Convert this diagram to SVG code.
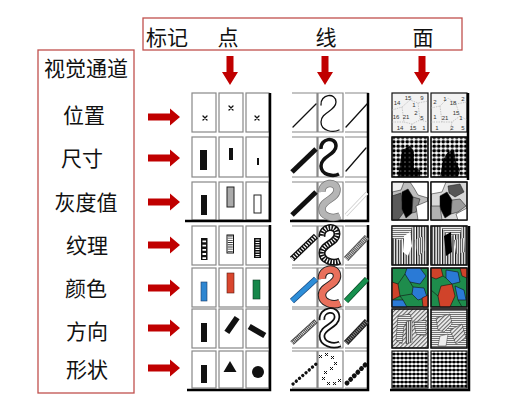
<svg xmlns="http://www.w3.org/2000/svg" width="505" height="404" viewBox="0 0 505 404">
<style>
.t{font-family:"Noto Sans CJK SC","Noto Sans",sans-serif;font-size:21px;fill:#111;text-anchor:middle}
.box{fill:none;stroke:#C0504D;stroke-width:1.3}
.ra{fill:#C00000}
.scell{stroke:#111;stroke-width:1.2}
.frame{fill:none;stroke:#000;stroke-width:2.5}
.thin{fill:none;stroke:#111;stroke-width:1.3;stroke-linecap:round}
.blk{fill:#111}
.num{font-family:"Liberation Sans",sans-serif;font-size:6px;fill:#333;text-anchor:middle}
</style>
<defs>
<pattern id="dots" width="4.5" height="4.5" patternUnits="userSpaceOnUse"><rect width="4.5" height="4.5" fill="#fff"/><circle cx="2.25" cy="2.25" r="1.9" fill="#000"/></pattern>
<pattern id="bigdots" width="4.5" height="4.5" patternUnits="userSpaceOnUse"><rect width="4.5" height="4.5" fill="#fff"/><circle cx="2.25" cy="2.25" r="2.6" fill="#000"/></pattern>
<pattern id="vstr" width="2.6" height="4" patternUnits="userSpaceOnUse"><rect width="2.6" height="4" fill="#fff"/><rect width="1.2" height="4" fill="#111"/></pattern>
<pattern id="vstr2" width="2" height="4" patternUnits="userSpaceOnUse"><rect width="2" height="4" fill="#ddd"/><rect width="0.9" height="4" fill="#555"/></pattern>
<pattern id="hstr" width="4" height="2" patternUnits="userSpaceOnUse"><rect width="4" height="2" fill="#eee"/><rect width="4" height="0.9" fill="#666"/></pattern>
<pattern id="dstr" width="3" height="3" patternUnits="userSpaceOnUse" patternTransform="rotate(45)"><rect width="3" height="3" fill="#eee"/><rect width="1.1" height="3" fill="#666"/></pattern>
<pattern id="grid" width="4" height="4" patternUnits="userSpaceOnUse"><rect width="4" height="4" fill="#fff"/><circle cx="2" cy="2" r="1.5" fill="#000"/><rect x="0" y="1.5" width="4" height="1" fill="#000"/></pattern>
</defs>
<rect width="505" height="404" fill="#fff"/>

<g id="header">
<rect class="box" x="143" y="18" width="319" height="32"/>
<text class="t" x="167" y="45">标记</text>
<text class="t" x="228" y="45">点</text>
<text class="t" x="326" y="45">线</text>
<text class="t" x="423" y="45">面</text>
</g>

<g id="channels">
<rect class="box" x="38" y="50" width="96" height="343"/>
<text class="t" x="86" y="76">视觉通道</text>
<text class="t" x="84" y="123">位置</text>
<text class="t" x="82" y="166">尺寸</text>
<text class="t" x="86" y="210">灰度值</text>
<text class="t" x="87" y="253">纹理</text>
<text class="t" x="86" y="296">颜色</text>
<text class="t" x="87" y="339">方向</text>
<text class="t" x="87" y="377">形状</text>
</g>

<g id="connectors">
<path class="ra" d="M226.5,56h7v16h4.5l-8,13l-8,-13h4.5z"/>
<path class="ra" d="M321.5,56h7v16h4.5l-8,13l-8,-13h4.5z"/>
<path class="ra" d="M418.5,56h7v16h4.5l-8,13l-8,-13h4.5z"/>
<path class="ra" d="M148,113.5H170V108.5L180,117L170,125.5V120.5H148Z"/>
<path class="ra" d="M148,154.5H170V149.5L180,158L170,166.5V161.5H148Z"/>
<path class="ra" d="M148,198.5H170V193.5L180,202L170,210.5V205.5H148Z"/>
<path class="ra" d="M148,241.5H170V236.5L180,245L170,253.5V248.5H148Z"/>
<path class="ra" d="M148,284.5H170V279.5L180,288L170,296.5V291.5H148Z"/>
<path class="ra" d="M148,324.5H170V319.5L180,328L170,336.5V331.5H148Z"/>
<path class="ra" d="M148,364.5H170V359.5L180,368L170,376.5V371.5H148Z"/>
</g>

<g id="point">
<g fill="#fff" stroke="#888" stroke-width="1.2">
<rect x="192" y="93" width="24" height="39"/><rect x="219" y="93" width="24" height="39"/><rect x="246" y="93" width="23" height="39"/>
<rect x="192" y="137" width="24" height="40"/><rect x="219" y="137" width="24" height="40"/><rect x="246" y="137" width="23" height="40"/>
<rect x="192" y="182" width="24" height="38"/><rect x="219" y="182" width="24" height="38"/><rect x="246" y="182" width="23" height="38"/>
<rect x="192" y="226" width="24" height="39"/><rect x="219" y="226" width="24" height="39"/><rect x="246" y="226" width="23" height="39"/>
<rect x="192" y="268" width="24" height="39"/><rect x="219" y="268" width="24" height="39"/><rect x="246" y="268" width="23" height="39"/>
<rect x="192" y="309" width="24" height="39"/><rect x="219" y="309" width="24" height="39"/><rect x="246" y="309" width="23" height="39"/>
<rect x="192" y="351" width="24" height="37"/><rect x="219" y="351" width="24" height="37"/><rect x="246" y="351" width="23" height="37"/>
</g>
<path class="frame" d="M270,93V221H185M270,225V390H187"/>
<path class="thin" stroke-width="1.5" d="M203,116l4,4M207,116l-4,4M229,106l4,4M233,106l-4,4M255,116l4,4M259,116l-4,4"/>
<rect class="blk" x="200" y="150" width="7" height="20"/>
<rect class="blk" x="229" y="148" width="4" height="12"/>
<rect class="blk" x="257" y="158" width="2" height="7"/>
<rect class="blk" x="201" y="195" width="6" height="20"/>
<rect x="227" y="187" width="7" height="20" fill="#aaa" stroke="#222" stroke-width="1"/>
<rect x="254" y="195" width="7" height="18" fill="#fff" stroke="#222" stroke-width="1"/>
<rect class="blk" x="201" y="238" width="6.5" height="22"/>
<path stroke="#fff" stroke-width="3.6" stroke-dasharray="1.8 2.4" d="M204.25,240.5V259"/>
<rect x="227" y="235" width="6.5" height="18" fill="#fff" stroke="#111" stroke-width="1"/>
<path stroke="#333" stroke-width="5" stroke-dasharray="0.9 1.3" d="M230.25,235.5V253"/>
<rect class="blk" x="254" y="238" width="7" height="20"/>
<path stroke="#fff" stroke-width="4" stroke-dasharray="1 1.4" d="M257.5,239.5V257"/>
<rect x="201" y="282" width="6" height="19" fill="#2E86D1" stroke="#1a3a6a" stroke-width="0.6"/>
<rect x="227" y="273" width="7" height="20" fill="#D9462E" stroke="#5a1a10" stroke-width="0.6"/>
<rect x="253" y="280" width="7" height="19" fill="#16874A" stroke="#0a3a20" stroke-width="0.6"/>
<rect class="blk" x="201" y="323" width="6" height="19"/>
<rect class="blk" x="229" y="316" width="6" height="18" transform="rotate(35 232 325)"/>
<rect class="blk" x="254" y="322" width="6" height="18" transform="rotate(-60 257 331)"/>
<rect class="blk" x="201" y="365" width="6" height="18"/>
<path class="blk" d="M230,361l6.5,11h-13z"/>
<circle class="blk" cx="258" cy="372" r="6"/>
</g>

<g id="line">
<g fill="#fff" stroke="#888" stroke-width="1.2">
<path d="M292,93H317V132H292M318,93H343V132H318ZM345,93H368V132H345"/>
<path d="M292,137H317V177H292M318,137H343V177H318ZM345,137H368V177H345"/>
<path d="M292,182H317V220H292M318,182H343V220H318ZM345,182H368V220H345"/>
<path d="M292,226H317V265H292M318,226H343V265H318ZM345,226H368V265H345"/>
<path d="M292,268H317V307H292M318,268H343V307H318ZM345,268H368V307H345"/>
<path d="M292,309H317V348H292M318,309H343V348H318ZM345,309H368V348H345"/>
<path d="M292,351H317V388H292M318,351H343V388H318ZM345,351H368V388H345"/>
</g>
<path class="frame" d="M368,93V221H290M368,225V390H290"/>
<path class="thin" d="M293,127L316,104M346,127L367,104"/>
<path class="thin" d="M321,105C320,94 336,92 336,102C336,111 321,112 321,122C321,131 333,133 339,130"/>
<path fill="none" stroke="#111" stroke-width="5" d="M292,172L316,149"/>
<path fill="none" stroke="#111" stroke-width="3.5" d="M321,149C320,138 336,136 336,146C336,155 321,156 321,166C321,175 333,177 339,174"/>
<path class="thin" d="M346,171L366,148"/>
<path fill="none" stroke="#111" stroke-width="5" d="M292,215L316,192"/>
<path fill="none" stroke="#777" stroke-width="7.5" d="M322,192C321,182 337,180 337,190C337,199 322,200 322,209C322,217 333,219 340,216"/>
<path fill="none" stroke="#b5b5b5" stroke-width="6" d="M322,192C321,182 337,180 337,190C337,199 322,200 322,209C322,217 333,219 340,216"/>
<path fill="none" stroke="#ccc" stroke-width="3.5" d="M346,215L367,193"/>
<path fill="none" stroke="#fff" stroke-width="2" d="M346,215L367,193"/>
<path fill="none" stroke="#111" stroke-width="6" d="M292,259L316,236"/>
<path fill="none" stroke="#fff" stroke-width="3.5" stroke-dasharray="1.2 1.6" d="M292,259L316,236"/>
<path fill="none" stroke="#111" stroke-width="7" d="M322,237C321,226 337,224 337,234C337,243 322,244 322,253C322,261 333,264 340,261"/>
<path fill="none" stroke="#fff" stroke-width="4" stroke-dasharray="1.2 1.6" d="M322,237C321,226 337,224 337,234C337,243 322,244 322,253C322,261 333,264 340,261"/>
<path fill="none" stroke="#555" stroke-width="6" d="M346,259L367,237"/>
<path fill="none" stroke="#ddd" stroke-width="4" stroke-dasharray="0.8 1" d="M346,259L367,237"/>
<path fill="none" stroke="#1a4a80" stroke-width="6" d="M292,301L316,279"/>
<path fill="none" stroke="#2E8ED8" stroke-width="4.5" d="M292,301L316,279"/>
<path fill="none" stroke="#222" stroke-width="8.5" d="M322,279C321,268 337,266 337,276C337,285 322,286 322,295C322,303 333,306 340,303"/>
<path fill="none" stroke="#E9705C" stroke-width="6.5" d="M322,279C321,268 337,266 337,276C337,285 322,286 322,295C322,303 333,306 340,303"/>
<path fill="none" stroke="#0c4a26" stroke-width="6" d="M346,301L367,279"/>
<path fill="none" stroke="#16904E" stroke-width="4.5" d="M346,301L367,279"/>
<path fill="none" stroke="#444" stroke-width="5" d="M292,343L316,321"/>
<path fill="none" stroke="#eee" stroke-width="3" stroke-dasharray="0.8 1" d="M292,343L316,321"/>
<path fill="none" stroke="#111" stroke-width="6.5" d="M322,320C321,309 337,307 337,317C337,326 322,327 322,336C322,344 333,347 340,344"/>
<path fill="none" stroke="#fff" stroke-width="3" d="M322,320C321,309 337,307 337,317C337,326 322,327 322,336C322,344 333,347 340,344"/>
<path fill="none" stroke="#222" stroke-width="6" d="M346,343L367,321"/>
<path fill="none" stroke="#888" stroke-width="3.5" stroke-dasharray="1 1.2" d="M346,343L367,321"/>
<path fill="none" stroke="#111" stroke-width="3.3" stroke-linecap="round" stroke-dasharray="0.1 4.2" d="M293,384L316,364"/>
<path fill="none" stroke="#111" stroke-width="1" d="M319,355l3,3m0,-3l-3,3M325,353l3,3m0,-3l-3,3M331,356l3,3m0,-3l-3,3M334,362l3,3m0,-3l-3,3M330,367l3,3m0,-3l-3,3M324,371l3,3m0,-3l-3,3M322,377l3,3m0,-3l-3,3M327,382l3,3m0,-3l-3,3M333,382l3,3m0,-3l-3,3M338,379l3,3m0,-3l-3,3"/>
<path fill="none" stroke="#111" stroke-width="4.8" stroke-linecap="round" stroke-dasharray="0.1 5" d="M347,383L368,362"/>
</g>

<g id="area">
<rect class="scell" x="392" y="93" width="36" height="39" fill="#f2f2f2"/>
<rect class="scell" x="431" y="93" width="36" height="39" fill="#f2f2f2"/>
<path fill="none" stroke="#aaa" stroke-width="0.6" stroke-dasharray="1.5 1" d="M392,110L402,107L410,100L418,103L428,101M402,107L404,122L412,124L420,120L428,122M412,124L410,132M392,122L404,122M418,103L420,120M431,108L440,106L448,98L456,104L467,102M440,106L442,122L452,122L460,116L467,120M452,122L450,132M431,122L442,122M456,104L460,116"/>
<text class="num" x="397" y="105">14</text><text class="num" x="408" y="100">15</text><text class="num" x="422" y="100">9</text>
<text class="num" x="414" y="107">1</text><text class="num" x="396" y="119">16</text><text class="num" x="406" y="119">21</text>
<text class="num" x="416" y="115">2</text><text class="num" x="422" y="120">5</text><text class="num" x="400" y="130">14</text>
<text class="num" x="413" y="130">15</text><text class="num" x="424" y="130">1</text>
<text class="num" x="435" y="104">2</text><text class="num" x="445" y="101">1</text><text class="num" x="453" y="105">18</text>
<text class="num" x="463" y="101">2</text><text class="num" x="435" y="119">1</text><text class="num" x="445" y="120">21</text>
<text class="num" x="456" y="115">15</text><text class="num" x="461" y="120">1</text><text class="num" x="437" y="130">1</text>
<text class="num" x="452" y="130">2</text><text class="num" x="463" y="130">5</text>
<rect class="scell" x="392" y="137" width="36" height="40" fill="url(#dots)"/>
<path fill="url(#bigdots)" d="M402,150L410,146L414,152L414,168L420,170L420,177L398,177L400,164Z"/>
<rect class="scell" x="392" y="137" width="36" height="40" fill="none"/>
<rect class="scell" x="431" y="137" width="36" height="40" fill="url(#dots)"/>
<path fill="url(#bigdots)" d="M443,160L448,152L454,150L456,162L460,170L458,177L440,177Z"/>
<rect class="scell" x="431" y="137" width="36" height="40" fill="none"/>
<rect class="scell" x="392" y="182" width="36" height="38" fill="#bdbdbd"/>
<g stroke="#111" stroke-width="0.5">
<path fill="#fff" d="M410,182L428,182L428,198L418,195L414,188Z"/>
<path fill="#eee" d="M392,182L404,182L401,190L392,192Z"/>
<path fill="#5a5a5a" d="M392,196L401,193L404,212L398,220L392,220Z"/>
<path fill="#000" d="M402,192L408,189L413,197L412,213L406,218L402,209Z"/>
<path fill="#888" d="M413,197L420,199L416,212L412,213Z"/>
<path fill="#fff" d="M416,206L428,201L428,220L418,220Z"/>
</g>
<rect class="scell" x="392" y="182" width="36" height="38" fill="none"/>
<rect class="scell" x="431" y="182" width="36" height="38" fill="#d8d8d8"/>
<g stroke="#111" stroke-width="0.5">
<path fill="#fff" d="M431,182L446,182L442,192L431,194Z"/>
<path fill="#555" d="M448,186L460,184L464,192L455,197L449,193Z"/>
<path fill="#000" d="M440,196L447,192L452,200L451,214L445,218L440,208Z"/>
<path fill="#9a9a9a" d="M452,200L460,199L466,206L458,212L451,214Z"/>
<path fill="#fff" d="M456,214L467,208L467,220L458,220Z"/>
<path fill="#b0b0b0" d="M431,206L440,206L442,220L431,220Z"/>
</g>
<rect class="scell" x="431" y="182" width="36" height="38" fill="none"/>
<rect class="scell" x="392" y="226" width="36" height="39" fill="url(#vstr)"/>
<path fill="url(#hstr)" d="M392,226L412,226L410,236L400,240L392,238Z"/>
<path fill="#fff" d="M404,236L410,232L412,246L408,256L403,252Z"/>
<path fill="url(#vstr2)" d="M414,240L424,236L426,250L418,256Z"/>
<rect class="scell" x="392" y="226" width="36" height="39" fill="none"/>
<rect class="scell" x="431" y="226" width="36" height="39" fill="url(#vstr)"/>
<path fill="url(#hstr)" d="M440,226L462,226L460,234L448,236Z"/>
<path fill="#000" d="M444,236L451,232L452,252L446,256Z"/>
<path fill="url(#vstr2)" d="M454,240L464,238L465,252L456,254Z"/>
<rect class="scell" x="431" y="226" width="36" height="39" fill="none"/>
<rect class="scell" x="392" y="268" width="36" height="39" fill="#1E8C4C"/>
<g stroke="#111" stroke-width="0.6">
<path fill="#2A7AD6" d="M407,268L420,268L426,276L420,284L410,282L405,274Z"/>
<path fill="#2A7AD6" d="M413,287L424,288L427,297L418,300L412,294Z"/>
<path fill="#D0432A" d="M392,282L398,284L400,296L392,300Z"/>
<path fill="#D0432A" d="M422,298L428,295L428,307L423,307Z"/>
<path fill="#2A7AD6" d="M392,300L403,300L407,307L392,307Z"/>
<path fill="none" d="M398,284L405,274M400,296L412,294M410,282L413,287M403,300L400,296"/>
</g>
<rect class="scell" x="392" y="268" width="36" height="39" fill="none"/>
<rect class="scell" x="431" y="268" width="36" height="39" fill="#1E8C4C"/>
<g stroke="#111" stroke-width="0.6">
<path fill="#D0432A" d="M431,268L441,268L443,276L436,279L431,277Z"/>
<path fill="#2A7AD6" d="M446,270L458,272L460,282L452,284L446,278Z"/>
<path fill="#D0432A" d="M441,286L452,284L455,296L450,307L440,307L438,296Z"/>
<path fill="#2A7AD6" d="M455,286L464,290L466,300L458,300Z"/>
<path fill="#D0432A" d="M460,268L467,268L467,278L462,276Z"/>
<path fill="none" d="M431,290L438,296M443,276L446,278M458,300L462,307"/>
</g>
<rect class="scell" x="431" y="268" width="36" height="39" fill="none"/>
<rect class="scell" x="392" y="309" width="36" height="39" fill="url(#dstr)"/>
<path fill="url(#hstr)" stroke="#333" stroke-width="0.5" d="M398,316L410,314L412,320L404,326L402,344L396,340Z"/>
<path fill="url(#vstr2)" stroke="#333" stroke-width="0.5" d="M406,322L412,320L412,342L406,344Z"/>
<path fill="url(#hstr)" stroke="#333" stroke-width="0.5" d="M414,322L426,320L426,336L416,334Z"/>
<rect class="scell" x="392" y="309" width="36" height="39" fill="none"/>
<rect class="scell" x="431" y="309" width="36" height="39" fill="url(#hstr)"/>
<path fill="url(#dstr)" stroke="#333" stroke-width="0.5" d="M436,318L450,314L452,324L444,332L438,330Z"/>
<path fill="url(#dstr)" stroke="#333" stroke-width="0.5" d="M450,330L462,324L466,338L456,344Z"/>
<path fill="#eee" stroke="#333" stroke-width="0.5" d="M440,336L448,334L446,346L438,346Z"/>
<rect class="scell" x="431" y="309" width="36" height="39" fill="none"/>
<rect class="scell" x="392" y="351" width="36" height="37" fill="url(#grid)"/>
<rect class="scell" x="431" y="351" width="36" height="37" fill="url(#grid)"/>
<path class="frame" d="M468,93V180M469,226V390H390"/>
</g>
</svg>
